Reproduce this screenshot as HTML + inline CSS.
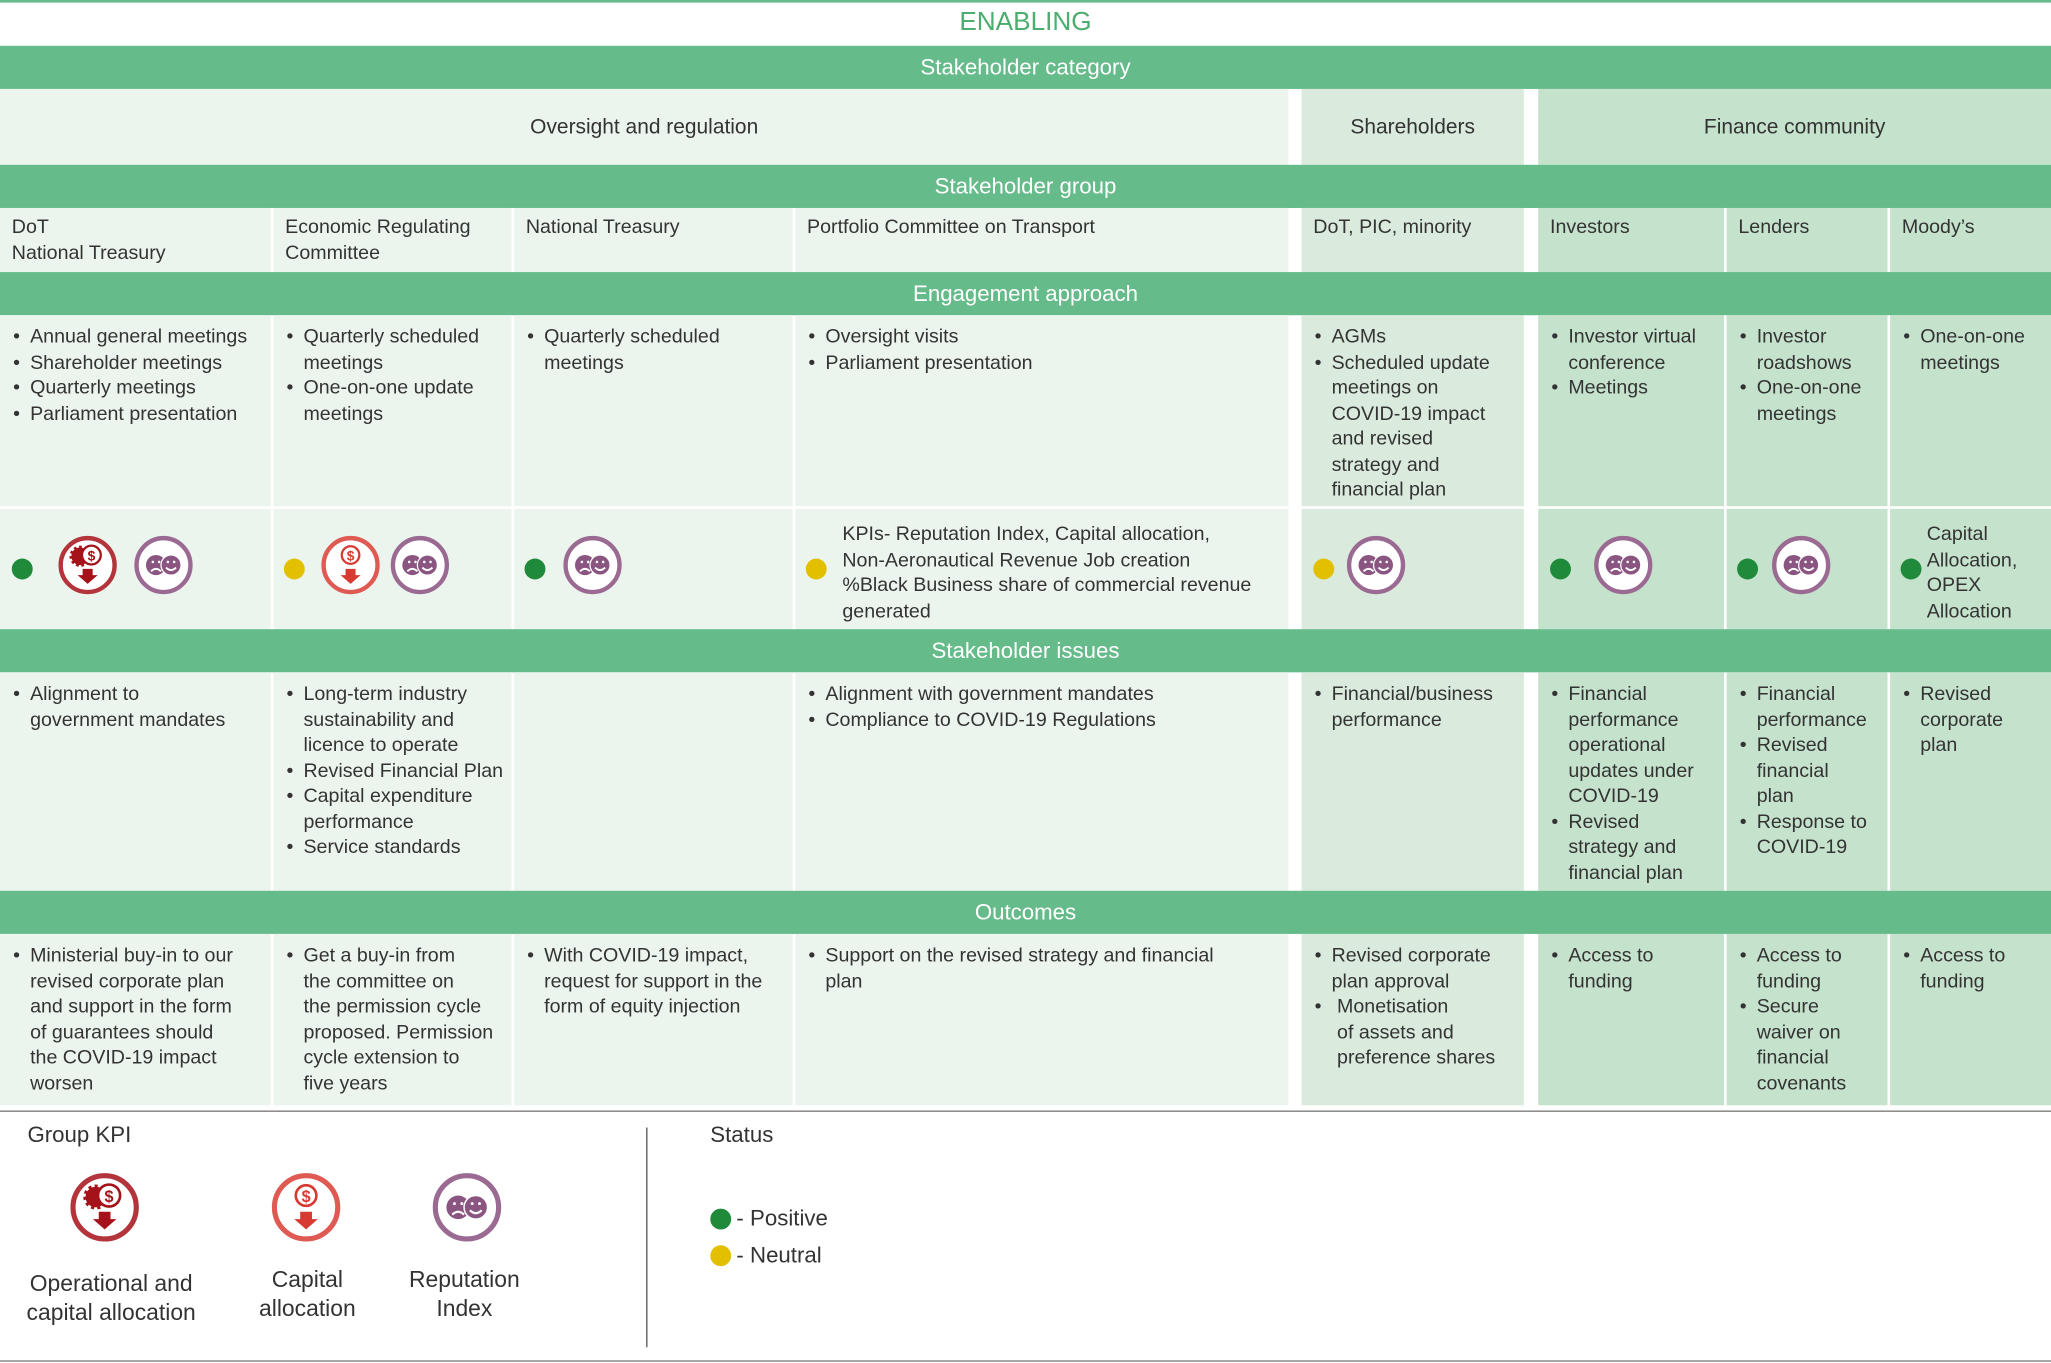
<!DOCTYPE html>
<html><head><meta charset="utf-8">
<style>
html,body{margin:0;padding:0;background:#fff;}
#wrap{width:2051px;height:1363px;overflow:hidden;position:relative;}
#s{position:absolute;left:0;top:0;width:1568px;height:1042px;transform:scale(1.30804);transform-origin:0 0;font-family:"Liberation Sans",sans-serif;color:#333;font-size:15px;}
.a{position:absolute;box-sizing:border-box;}
.bar{background:#66bb8a;color:#fff;text-align:center;font-size:17px;left:0;width:1568px;height:33px;line-height:33px;}
.c1{background:#ecf5ed}.c2{background:#daebdd}.c3{background:#c5e2cc}
.t{line-height:19.5px;padding:7px 0 0 9px;white-space:nowrap;}
ul{margin:0;padding:0 0 0 14px;list-style:none;}
li{position:relative;}
li:before{content:"•";position:absolute;left:-13px;}
.d{position:absolute;width:16px;height:16px;border-radius:50%;}
.g{background:#1e8a3a}.y{background:#e2c000}
svg.i{position:absolute;width:46px;height:46px;}
</style></head><body><div id="wrap"><div id="s">
<svg width="0" height="0" style="position:absolute">
<defs>
<symbol id="rep" viewBox="0 0 48 48"><circle cx="24" cy="24" r="21.5" fill="#fff" stroke="#9a6a92" stroke-width="3.5"/><circle cx="18" cy="24" r="8" fill="#8a5580"/><circle cx="30" cy="24" r="8" fill="#8a5580" stroke="#fff" stroke-width="1"/><path d="M14 29 q4 -4 8 0" stroke="#fff" fill="none" stroke-width="1.5"/><path d="M26 26 q4 4 8 0" stroke="#fff" fill="none" stroke-width="1.5"/><circle cx="15.5" cy="21.5" r="1" fill="#fff"/><circle cx="20.5" cy="21.5" r="1" fill="#fff"/><circle cx="27.5" cy="21.5" r="1" fill="#fff"/><circle cx="32.5" cy="21.5" r="1" fill="#fff"/></symbol>
<symbol id="cap" viewBox="0 0 48 48"><circle cx="24" cy="24" r="21.5" fill="#fff" stroke="#de5a52" stroke-width="3.5"/><circle cx="24" cy="16" r="7" fill="none" stroke="#d73a31" stroke-width="1.8"/><text x="24" y="20.5" font-size="11" font-weight="bold" fill="#d73a31" text-anchor="middle" font-family="Liberation Sans">$</text><path d="M20 27h8v5h4l-8 7-8-7h4z" fill="#d73a31"/></symbol>
<symbol id="op" viewBox="0 0 48 48"><circle cx="24" cy="24" r="21.5" fill="#fff" stroke="#b3343a" stroke-width="3.5"/><circle cx="18" cy="17" r="7" fill="#a51219" stroke="#a51219" stroke-width="3" stroke-dasharray="2 2"/><circle cx="27" cy="16" r="7.5" fill="#fff" stroke="#a51219" stroke-width="1.8"/><text x="27" y="20.5" font-size="11" font-weight="bold" fill="#a51219" text-anchor="middle" font-family="Liberation Sans">$</text><path d="M20 27h8v5h4l-8 7-8-7h4z" fill="#a51219"/></symbol>
</defs></svg>

<div class="a" style="left:0;top:0;width:1568px;height:2px;background:#66bb8a"></div>
<div class="a" style="left:0;top:6px;width:1568px;text-align:center;color:#4cae6e;font-size:20px;">ENABLING</div>
<div class="a bar" style="top:35px">Stakeholder category</div>
<div class="a c1" style="left:0;top:68px;width:985px;height:58px;line-height:60px;text-align:center;font-size:16px">Oversight and regulation</div>
<div class="a c2" style="left:995px;top:68px;width:170px;height:58px;line-height:60px;text-align:center;font-size:16px">Shareholders</div>
<div class="a c3" style="left:1176px;top:68px;width:392px;height:58px;line-height:60px;text-align:center;font-size:16px">Finance community</div>
<div class="a bar" style="top:126px">Stakeholder group</div>

<div class="a c1 t" style="left:0;top:159px;width:207px;height:49px;padding-top:5px">DoT<br>National Treasury</div>
<div class="a c1 t" style="left:209px;top:159px;width:182px;height:49px;padding-top:5px">Economic Regulating<br>Committee</div>
<div class="a c1 t" style="left:393px;top:159px;width:213px;height:49px;padding-top:5px">National Treasury</div>
<div class="a c1 t" style="left:608px;top:159px;width:377px;height:49px;padding-top:5px">Portfolio Committee on Transport</div>
<div class="a c2 t" style="left:995px;top:159px;width:170px;height:49px;padding-top:5px">DoT, PIC, minority</div>
<div class="a c3 t" style="left:1176px;top:159px;width:142px;height:49px;padding-top:5px">Investors</div>
<div class="a c3 t" style="left:1320px;top:159px;width:123px;height:49px;padding-top:5px">Lenders</div>
<div class="a c3 t" style="left:1445px;top:159px;width:123px;height:49px;padding-top:5px">Moody’s</div>
<div class="a bar" style="top:208px">Engagement approach</div>

<div class="a c1 t" style="left:0;top:241px;width:207px;height:146px"><ul><li>Annual general meetings</li><li>Shareholder meetings</li><li>Quarterly meetings</li><li>Parliament presentation</li></ul></div>
<div class="a c1 t" style="left:209px;top:241px;width:182px;height:146px"><ul><li>Quarterly scheduled<br>meetings</li><li>One-on-one update<br>meetings</li></ul></div>
<div class="a c1 t" style="left:393px;top:241px;width:213px;height:146px"><ul><li>Quarterly scheduled<br>meetings</li></ul></div>
<div class="a c1 t" style="left:608px;top:241px;width:377px;height:146px"><ul><li>Oversight visits</li><li>Parliament presentation</li></ul></div>
<div class="a c2 t" style="left:995px;top:241px;width:170px;height:146px"><ul><li>AGMs</li><li>Scheduled update<br>meetings on<br>COVID-19 impact<br>and revised<br>strategy and<br>financial plan</li></ul></div>
<div class="a c3 t" style="left:1176px;top:241px;width:142px;height:146px"><ul><li>Investor virtual<br>conference</li><li>Meetings</li></ul></div>
<div class="a c3 t" style="left:1320px;top:241px;width:123px;height:146px"><ul><li>Investor<br>roadshows</li><li>One-on-one<br>meetings</li></ul></div>
<div class="a c3 t" style="left:1445px;top:241px;width:123px;height:146px"><ul><li>One-on-one<br>meetings</li></ul></div>

<div class="a c1" style="left:0;top:389px;width:207px;height:92px"></div>
<div class="a c1" style="left:209px;top:389px;width:182px;height:92px"></div>
<div class="a c1" style="left:393px;top:389px;width:213px;height:92px"></div>
<div class="a c1" style="left:608px;top:389px;width:377px;height:92px"></div>
<div class="a c2" style="left:995px;top:389px;width:170px;height:92px"></div>
<div class="a c3" style="left:1176px;top:389px;width:142px;height:92px"></div>
<div class="a c3" style="left:1320px;top:389px;width:123px;height:92px"></div>
<div class="a c3" style="left:1445px;top:389px;width:123px;height:92px"></div>

<div class="d g" style="left:9px;top:427px"></div>
<svg class="i" style="left:44px;top:409px"><use href="#op"/></svg>
<svg class="i" style="left:102px;top:409px"><use href="#rep"/></svg>
<div class="d y" style="left:217px;top:427px"></div>
<svg class="i" style="left:245px;top:409px"><use href="#cap"/></svg>
<svg class="i" style="left:298px;top:409px"><use href="#rep"/></svg>
<div class="d g" style="left:401px;top:427px"></div>
<svg class="i" style="left:430px;top:409px"><use href="#rep"/></svg>
<div class="d y" style="left:616px;top:427px"></div>
<div class="a t" style="left:635px;top:392px;line-height:19.5px">KPIs- Reputation Index, Capital allocation,<br>Non-Aeronautical Revenue Job creation<br>%Black Business share of commercial revenue<br>generated</div>
<div class="d y" style="left:1004px;top:427px"></div>
<svg class="i" style="left:1029px;top:409px"><use href="#rep"/></svg>
<div class="d g" style="left:1185px;top:427px"></div>
<svg class="i" style="left:1218px;top:409px"><use href="#rep"/></svg>
<div class="d g" style="left:1328px;top:427px"></div>
<svg class="i" style="left:1354px;top:409px"><use href="#rep"/></svg>
<div class="d g" style="left:1453px;top:427px"></div>
<div class="a t" style="left:1464px;top:392px">Capital<br>Allocation,<br>OPEX<br>Allocation</div>

<div class="a bar" style="top:481px">Stakeholder issues</div>
<div class="a c1 t" style="left:0;top:514px;width:207px;height:167px"><ul><li>Alignment to<br>government mandates</li></ul></div>
<div class="a c1 t" style="left:209px;top:514px;width:182px;height:167px"><ul><li>Long-term industry<br>sustainability and<br>licence to operate</li><li>Revised Financial Plan</li><li>Capital expenditure<br>performance</li><li>Service standards</li></ul></div>
<div class="a c1 t" style="left:393px;top:514px;width:213px;height:167px"></div>
<div class="a c1 t" style="left:608px;top:514px;width:377px;height:167px"><ul><li>Alignment with government mandates</li><li>Compliance to COVID-19 Regulations</li></ul></div>
<div class="a c2 t" style="left:995px;top:514px;width:170px;height:167px"><ul><li>Financial/business<br>performance</li></ul></div>
<div class="a c3 t" style="left:1176px;top:514px;width:142px;height:167px"><ul><li>Financial<br>performance<br>operational<br>updates under<br>COVID-19</li><li>Revised<br>strategy and<br>financial plan</li></ul></div>
<div class="a c3 t" style="left:1320px;top:514px;width:123px;height:167px"><ul><li>Financial<br>performance</li><li>Revised<br>financial<br>plan</li><li>Response to<br>COVID-19</li></ul></div>
<div class="a c3 t" style="left:1445px;top:514px;width:123px;height:167px"><ul><li>Revised<br>corporate<br>plan</li></ul></div>

<div class="a bar" style="top:681px">Outcomes</div>
<div class="a c1 t" style="left:0;top:714px;width:207px;height:131px"><ul><li>Ministerial buy-in to our<br>revised corporate plan<br>and support in the form<br>of guarantees should<br>the COVID-19 impact<br>worsen</li></ul></div>
<div class="a c1 t" style="left:209px;top:714px;width:182px;height:131px"><ul><li>Get a buy-in from<br>the committee on<br>the permission cycle<br>proposed. Permission<br>cycle extension to<br>five years</li></ul></div>
<div class="a c1 t" style="left:393px;top:714px;width:213px;height:131px"><ul><li>With COVID-19 impact,<br>request for support in the<br>form of equity injection</li></ul></div>
<div class="a c1 t" style="left:608px;top:714px;width:377px;height:131px"><ul><li>Support on the revised strategy and financial<br>plan</li></ul></div>
<div class="a c2 t" style="left:995px;top:714px;width:170px;height:131px"><ul><li>Revised corporate<br>plan approval</li><li>&nbsp;Monetisation<br>&nbsp;of assets and<br>&nbsp;preference shares</li></ul></div>
<div class="a c3 t" style="left:1176px;top:714px;width:142px;height:131px"><ul><li>Access to<br>funding</li></ul></div>
<div class="a c3 t" style="left:1320px;top:714px;width:123px;height:131px"><ul><li>Access to<br>funding</li><li>Secure<br>waiver on<br>financial<br>covenants</li></ul></div>
<div class="a c3 t" style="left:1445px;top:714px;width:123px;height:131px"><ul><li>Access to<br>funding</li></ul></div>

<div class="a" style="left:0;top:849px;width:1568px;height:1px;background:#777"></div>
<div class="a" style="left:0;top:1040px;width:1568px;height:1px;background:#777"></div>
<div class="a" style="left:494px;top:862px;width:1px;height:168px;background:#555"></div>
<div class="a" style="left:21px;top:858px;font-size:17px">Group KPI</div>
<svg class="i" style="left:53px;top:896px;width:54px;height:54px"><use href="#op"/></svg>
<svg class="i" style="left:207px;top:896px;width:54px;height:54px"><use href="#cap"/></svg>
<svg class="i" style="left:330px;top:896px;width:54px;height:54px"><use href="#rep"/></svg>
<div class="a" style="left:0;top:970px;width:170px;text-align:center;font-size:17.5px;line-height:22px">Operational and<br>capital allocation</div>
<div class="a" style="left:175px;top:967px;width:120px;text-align:center;font-size:17.5px;line-height:22px">Capital<br>allocation</div>
<div class="a" style="left:295px;top:967px;width:120px;text-align:center;font-size:17.5px;line-height:22px">Reputation<br>Index</div>
<div class="a" style="left:543px;top:858px;font-size:17px">Status</div>
<div class="d g" style="left:543px;top:924px"></div>
<div class="a" style="left:563px;top:922px;font-size:17px">- Positive</div>
<div class="d y" style="left:543px;top:952px"></div>
<div class="a" style="left:563px;top:950px;font-size:17px">- Neutral</div>
</div></div></body></html>
